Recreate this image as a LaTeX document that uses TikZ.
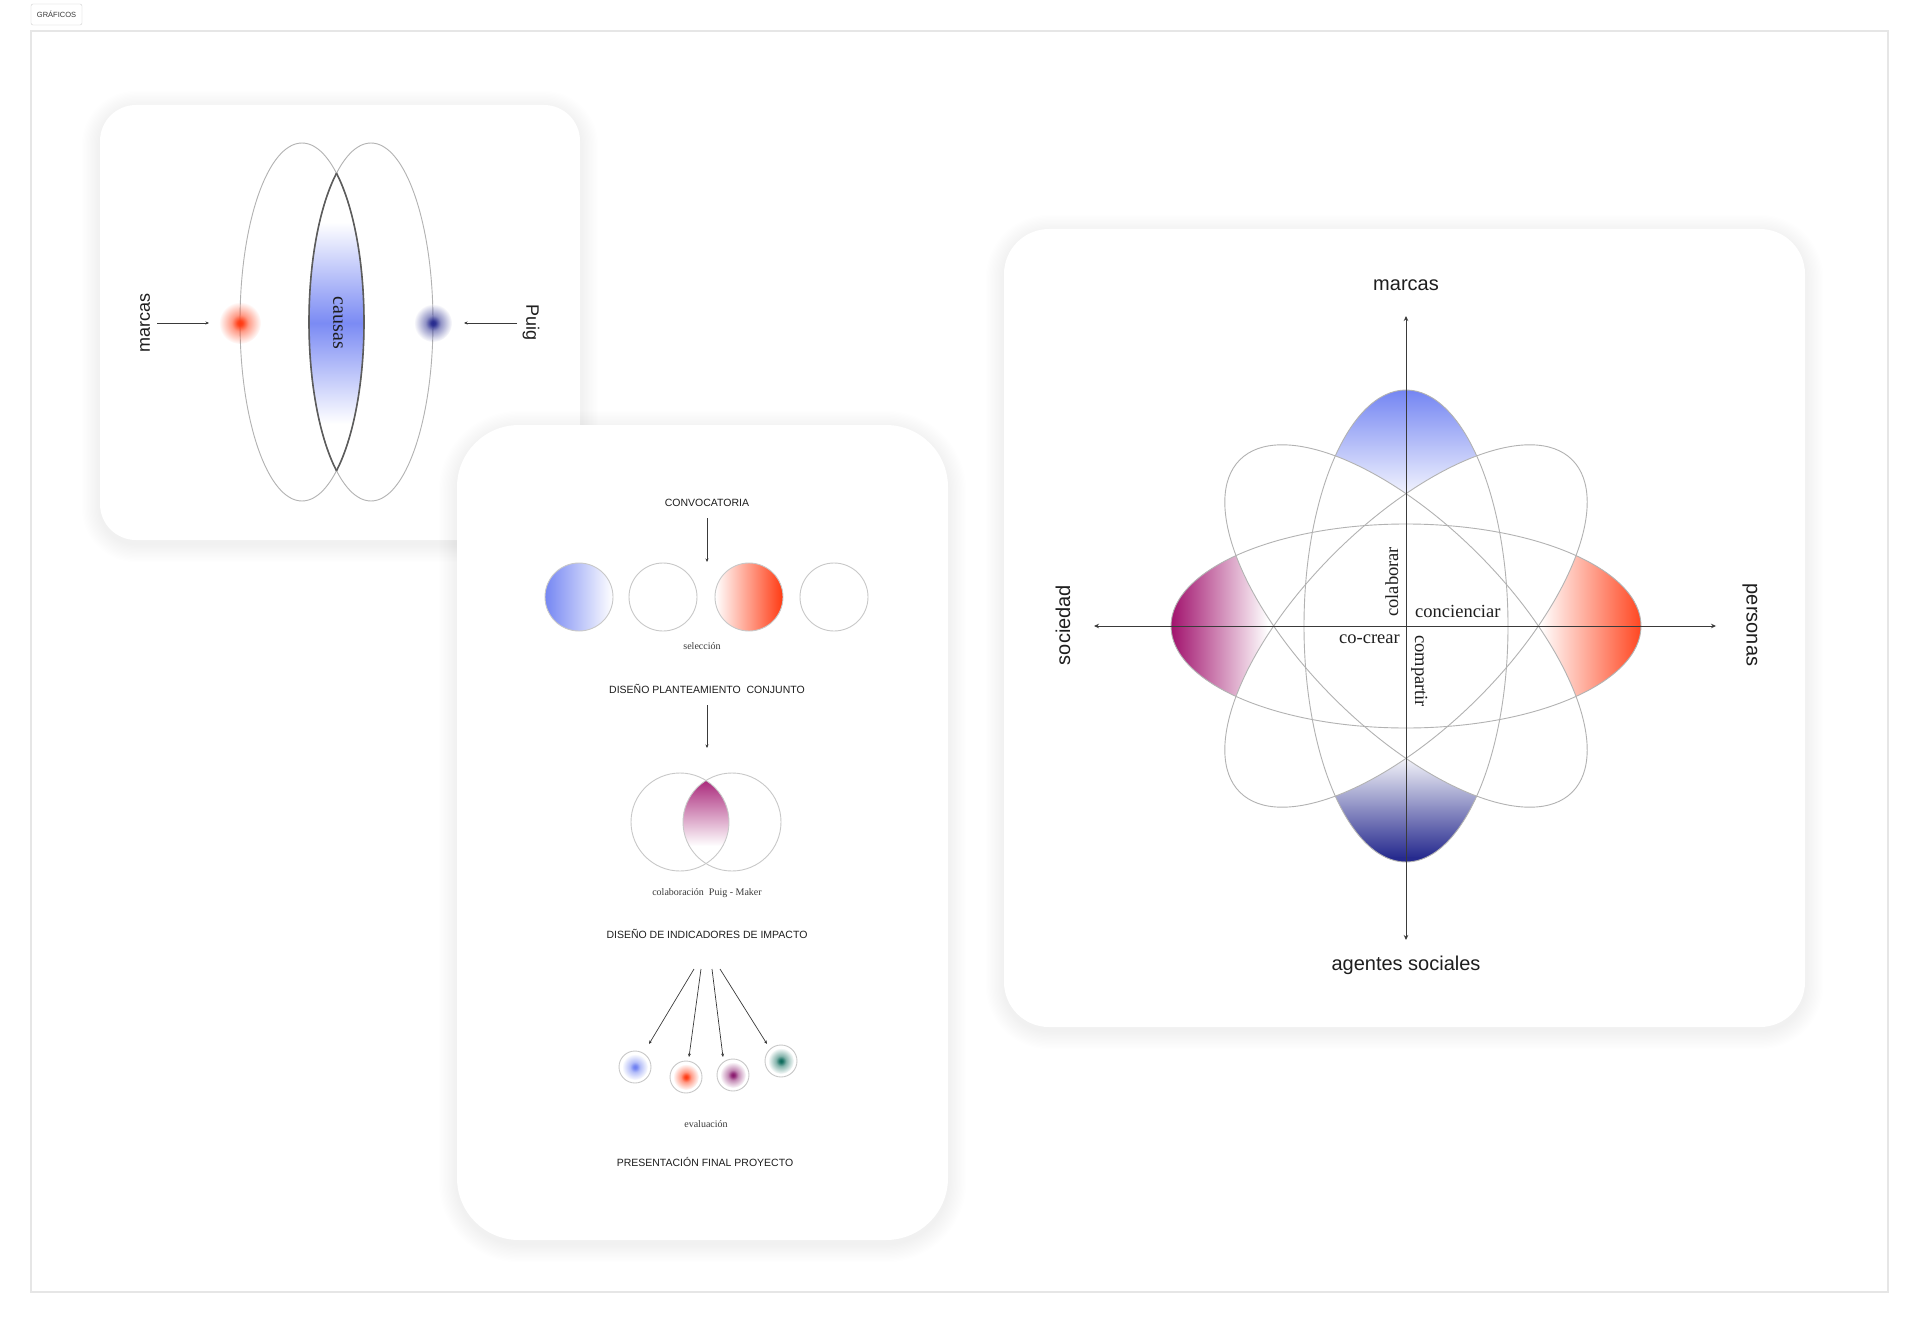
\documentclass[tikz,border=0pt]{standalone}
\usepackage{fontspec}
\setmainfont{Liberation Serif}
\newfontfamily\sansf{Liberation Sans}
\usetikzlibrary{arrows.meta,fadings}
\definecolor{frameGray}{HTML}{E6E6E6}
\definecolor{tagGray}{HTML}{CFCFCF}
\definecolor{ellGray}{HTML}{B2B2B2}
\definecolor{circGray}{HTML}{C8C8C8}
\definecolor{lensLine}{HTML}{5C5C5C}
\definecolor{inkGray}{HTML}{3A3A3A}
\definecolor{topBlue}{HTML}{6E80F2}
\definecolor{lensBlue}{HTML}{7B8BF4}
\definecolor{navyBlue}{HTML}{262A8E}
\definecolor{magentaP}{HTML}{A0106C}
\definecolor{redOr}{HTML}{FF3A12}
\definecolor{tealG}{HTML}{0E6B5C}
\definecolor{purpleP}{HTML}{8A1A6E}
\definecolor{textDark}{HTML}{1E1E1E}
\pgfdeclareradialshading{blobshade}{\pgfpointorigin}{color(0bp)=(pgftransparent!0); color(3bp)=(pgftransparent!5); color(10bp)=(pgftransparent!50); color(25bp)=(pgftransparent!100); color(50bp)=(pgftransparent!100)}
\pgfdeclarefading{blob}{\pgfuseshading{blobshade}}
\newcommand\cardshadow[5]{%
  \foreach \k in {1,...,14} {
    \pgfmathsetmacro\rr{#5+1.3*\k}
    \fill[black, opacity=0.0055, rounded corners=\rr pt] (#1-1.3*\k, #2-1.3*\k+4) rectangle (#3+1.3*\k, #4+1.3*\k+4);
  }
}
\tikzset{
  card/.style={fill=white},
  ellline/.style={draw=ellGray, line width=0.9pt},
  circline/.style={draw=circGray, line width=0.9pt},
  thinarrow/.style={draw=inkGray, line width=0.7pt, -{Stealth[length=3.5pt,width=3pt]}},
  axisarrow/.style={draw=inkGray, line width=0.9pt, {Stealth[length=5pt,width=4.5pt]}-{Stealth[length=5pt,width=4.5pt]}},
  sansbig/.style={font=\sansf\fontsize{20}{24}\selectfont, text=textDark, inner sep=0pt},
  sansmid/.style={font=\sansf\fontsize{18}{22}\selectfont, text=textDark, inner sep=0pt},
  capsl/.style={font=\sansf\fontsize{10.5}{12}\selectfont, text=textDark, inner sep=0pt},
  serifbig/.style={font=\fontsize{18.5}{22}\selectfont, text=textDark, inner sep=0pt},
  serifsmall/.style={font=\fontsize{10}{12}\selectfont, text=inkGray, inner sep=0pt},
}
\begin{document}
\begin{tikzpicture}[x=1pt,y=-1pt]
\useasboundingbox (0,0) rectangle (1920,1324);
\fill[white] (0,0) rectangle (1920,1324);

% outer frame and tag
\draw[frameGray, line width=1.3pt] (31,31) rectangle (1888,1292);
\node[draw=tagGray, fill=white, rounded corners=2pt, minimum width=51pt, minimum height=21pt, inner sep=0pt,
      font=\sansf\fontsize{7.5}{9}\selectfont, text=inkGray] (tag) at (56.5,14.5) {GRÁFICOS};

% ================= card 1 =================
\cardshadow{100}{105}{580}{540}{36}
\path[card, rounded corners=36pt] (100,105) rectangle (580,540);
\coordinate (L1) at (302,322);
\coordinate (R1) at (371,322);
\begin{scope}
  \clip (L1) ellipse [x radius=62pt, y radius=179pt];
  \clip (R1) ellipse [x radius=62pt, y radius=179pt];
  \shade[top color=white, bottom color=white, middle color=lensBlue] (300,222) rectangle (375,424);
\end{scope}
\draw[ellline] (L1) ellipse [x radius=62pt, y radius=179pt];
\draw[ellline] (R1) ellipse [x radius=62pt, y radius=179pt];
\begin{scope}
  \clip (R1) ellipse [x radius=62pt, y radius=179pt];
  \draw[draw=lensLine, line width=1.6pt] (L1) ellipse [x radius=62pt, y radius=179pt];
\end{scope}
\begin{scope}
  \clip (L1) ellipse [x radius=62pt, y radius=179pt];
  \draw[draw=lensLine, line width=1.6pt] (R1) ellipse [x radius=62pt, y radius=179pt];
\end{scope}
\fill[redOr, path fading=blob] (240,323) circle [radius=21pt];
\fill[navyBlue, path fading=blob] (433,323) circle [radius=19pt];
\coordinate (redDot) at (209,323);
\coordinate (blueDot) at (464,323);
\node[sansmid, rotate=90] (marcasA) at (145,323) {marcas};
\node[sansmid, rotate=-90] (puigA) at (531,323) {Puig};
\node[serifbig, font=\fontsize{20}{24}\selectfont, rotate=-90] (causas) at (338,323) {causas};
\coordinate (mA) at (157,323);
\coordinate (pA) at (517,323);
\draw[thinarrow] (mA) -- (redDot);
\draw[thinarrow] (pA) -- (blueDot);

% ================= card 2 =================
\cardshadow{457}{425}{948}{1240}{62}
\path[card, rounded corners=62pt] (457,425) rectangle (948,1240);
\node[capsl] (conv) at (707,503) {CONVOCATORIA};
\coordinate (c1a) at (707,518);
\coordinate (c1b) at (707,562);
\draw[thinarrow] (c1a) -- (c1b);
\shadedraw[circline, left color=topBlue!95, right color=white] (579,597) circle [radius=34pt];
\draw[circline] (663,597) circle [radius=34pt];
\shadedraw[circline, left color=white, right color=redOr] (749,597) circle [radius=34pt];
\draw[circline] (834,597) circle [radius=34pt];
\node[serifsmall] (sel) at (702,646) {selección};
\node[capsl] (dpc) at (707,689) {DISEÑO PLANTEAMIENTO\hspace{0.55em}CONJUNTO};
\coordinate (c2a) at (707,705);
\coordinate (c2b) at (707,748);
\draw[thinarrow] (c2a) -- (c2b);
\coordinate (V1) at (680,822);
\coordinate (V2) at (732,822);
\begin{scope}
  \clip (V1) circle [radius=49pt];
  \clip (V2) circle [radius=49pt];
  \shade[top color=magentaP!95, bottom color=white] (650,776) rectangle (760,846);
\end{scope}
\draw[circline] (V1) circle [radius=49pt];
\draw[circline] (V2) circle [radius=49pt];
\node[serifsmall] (colab) at (707,893) {colaboración\hspace{0.5em}Puig - Maker};
\node[capsl] (ind) at (707,934) {DISEÑO DE INDICADORES DE IMPACTO};
\coordinate (s1) at (694,969);
\coordinate (s2) at (701,969);
\coordinate (s3) at (712,969);
\coordinate (s4) at (720,969);
\coordinate (e1) at (649,1044);
\coordinate (e2) at (689,1057);
\coordinate (e3) at (723,1057);
\coordinate (e4) at (767,1044);
\draw[thinarrow] (s1) -- (e1);
\draw[thinarrow] (s2) -- (e2);
\draw[thinarrow] (s3) -- (e3);
\draw[thinarrow] (s4) -- (e4);
\fill[topBlue, path fading=blob] (635,1067) circle [radius=13pt];
\fill[redOr, path fading=blob] (686,1077) circle [radius=13pt];
\fill[purpleP, path fading=blob] (733,1075) circle [radius=13pt];
\fill[tealG, path fading=blob] (781,1061) circle [radius=13pt];
\draw[circline] (635,1067) circle [radius=16pt];
\draw[circline] (686,1077) circle [radius=16pt];
\draw[circline] (733,1075) circle [radius=16pt];
\draw[circline] (781,1061) circle [radius=16pt];
\node[serifsmall] (eval) at (706,1124) {evaluación};
\node[capsl] (pres) at (705,1162) {PRESENTACIÓN FINAL PROYECTO};

% ================= card 3 =================
\cardshadow{1004}{229}{1805}{1027}{45}
\path[card, rounded corners=45pt] (1004,229) rectangle (1805,1027);
\coordinate (C) at (1406,626);
\begin{scope}
  \clip (C) ellipse [x radius=102pt, y radius=236pt];
  \shade[top color=topBlue, bottom color=white] (1290,385) rectangle (1520,505);
  \shade[top color=white, bottom color=navyBlue] (1290,752) rectangle (1520,858);
  \fill[navyBlue] (1290,857) rectangle (1520,866);
\end{scope}
\begin{scope}
  \clip (C) ellipse [x radius=235pt, y radius=102pt];
  \shade[left color=magentaP, right color=white] (1170,500) rectangle (1268,750);
  \shade[left color=white, right color=redOr] (1540,500) rectangle (1648,750);
\end{scope}
\fill[white, rotate around={45:(C)}] (C) ellipse [x radius=235pt, y radius=102pt];
\fill[white, rotate around={-45:(C)}] (C) ellipse [x radius=235pt, y radius=102pt];
\draw[ellline] (C) ellipse [x radius=235pt, y radius=102pt];
\draw[ellline] (C) ellipse [x radius=102pt, y radius=236pt];
\draw[ellline, rotate around={45:(C)}] (C) ellipse [x radius=235pt, y radius=102pt];
\draw[ellline, rotate around={-45:(C)}] (C) ellipse [x radius=235pt, y radius=102pt];
\coordinate (axT) at (1406,316);
\coordinate (axB) at (1406,940);
\coordinate (axL) at (1094,626);
\coordinate (axR) at (1716,626);
\draw[axisarrow] (axT) -- (axB);
\draw[axisarrow] (axL) -- (axR);
\node[sansbig] (marcasB) at (1406,285) {marcas};
\node[sansbig] (agentes) at (1406,965) {agentes sociales};
\node[sansbig, rotate=90] (soc) at (1063,625) {sociedad};
\node[sansbig, rotate=-90] (pers) at (1750,625) {personas};
\node[serifbig, rotate=90, anchor=base west] (colaborar) at (1398,617) {colaborar};
\node[serifbig, anchor=base west] (conc) at (1415,617) {concienciar};
\node[serifbig, anchor=base east] (cocrear) at (1400,643) {co-crear};
\node[serifbig, rotate=-90, anchor=base west] (compartir) at (1415,635) {compartir};
\end{tikzpicture}
\end{document}
